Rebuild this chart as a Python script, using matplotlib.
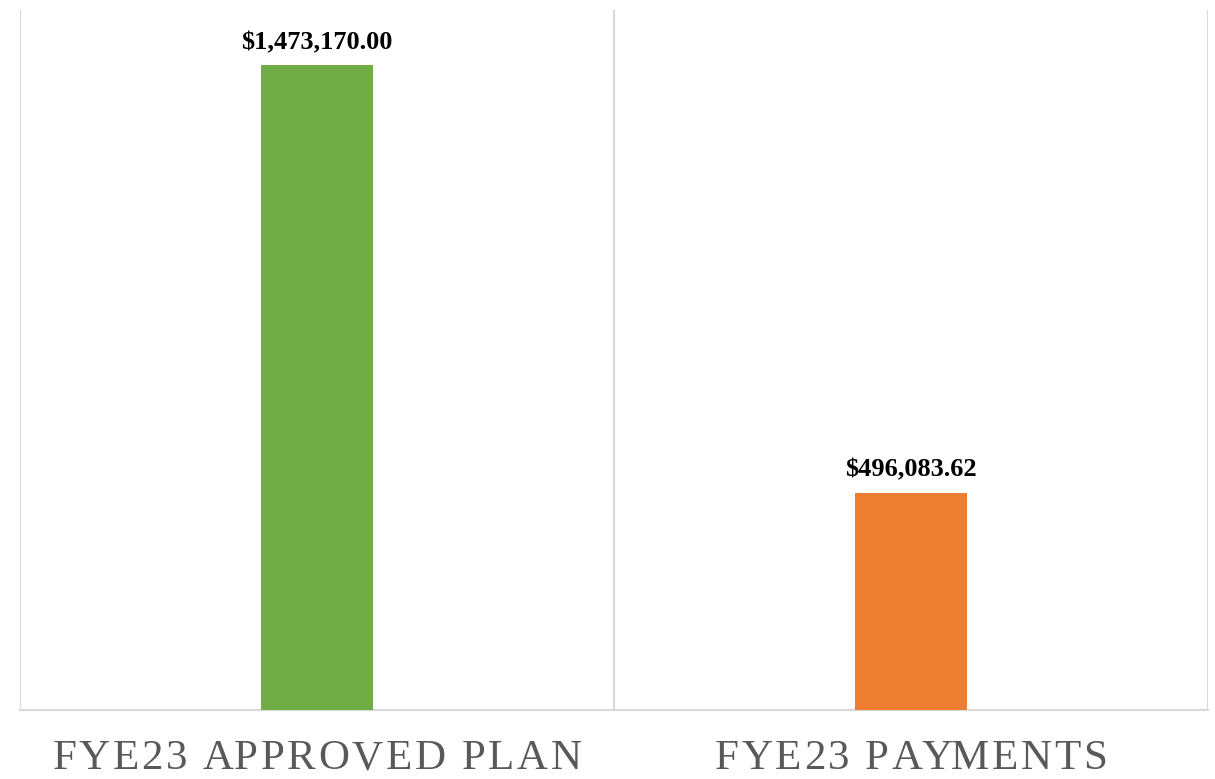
import numpy as np
import matplotlib
matplotlib.use('Agg')
import matplotlib.pyplot as plt
from matplotlib.font_manager import FontProperties
from matplotlib.transforms import IdentityTransform

categories = ['FYE23 APPROVED PLAN', 'FYE23 PAYMENTS']
values = [1473170.00, 496083.62]
value_labels = ['$1,473,170.00', '$496,083.62']
colors = ['#70AD47', '#ED7D31']

fig = plt.figure(figsize=(12.15, 7.79), dpi=100)
ax = fig.add_axes([20/1215, 69/779, 1188/1215, 700/779])

x = np.arange(len(categories))
ax.bar(x, values, width=0.187, color=colors, zorder=3)

ax.set_xlim(-0.5, 1.5)
ax.set_ylim(0, 1600000)

# category separators
for xv in [-0.5, 0.5, 1.5]:
    ax.axvline(xv, color='#D9D9D9', linewidth=1.5, zorder=1)

for s in ['top', 'left', 'right']:
    ax.spines[s].set_visible(False)
ax.spines['bottom'].set_color('#D9D9D9')
ax.spines['bottom'].set_linewidth(1.5)
ax.set_yticks([])
ax.set_xticks([])

for xi, v, lab in zip(x, values, value_labels):
    ax.annotate(lab, (xi, v), xytext=(0, 12), textcoords='offset points',
                ha='center', va='baseline', fontfamily='Liberation Serif',
                fontweight='bold', fontsize=19, color='black')

# category labels with letter spacing, drawn char by char (pixel coords)
fig.canvas.draw()
renderer = fig.canvas.get_renderer()
prop = FontProperties(family='Liberation Serif', size=31)
spacing = 2.6

def w(s):
    return renderer.get_text_width_height_descent(s, prop, ismath=False)[0]

for xi, lab in zip(x, categories):
    cx = ax.transData.transform((xi, 0))[0]
    total = w(lab) + spacing * (len(lab) - 1)
    x0 = cx - total / 2
    for i, ch in enumerate(lab):
        if ch == ' ':
            continue
        off = w(lab[:i] + '|') - w('|') if i else 0
        fig.text(x0 + off + i * spacing, 10, ch, transform=IdentityTransform(),
                 fontproperties=prop, color='#595959', ha='left', va='baseline')

fig.savefig('out.png', dpi=100)
